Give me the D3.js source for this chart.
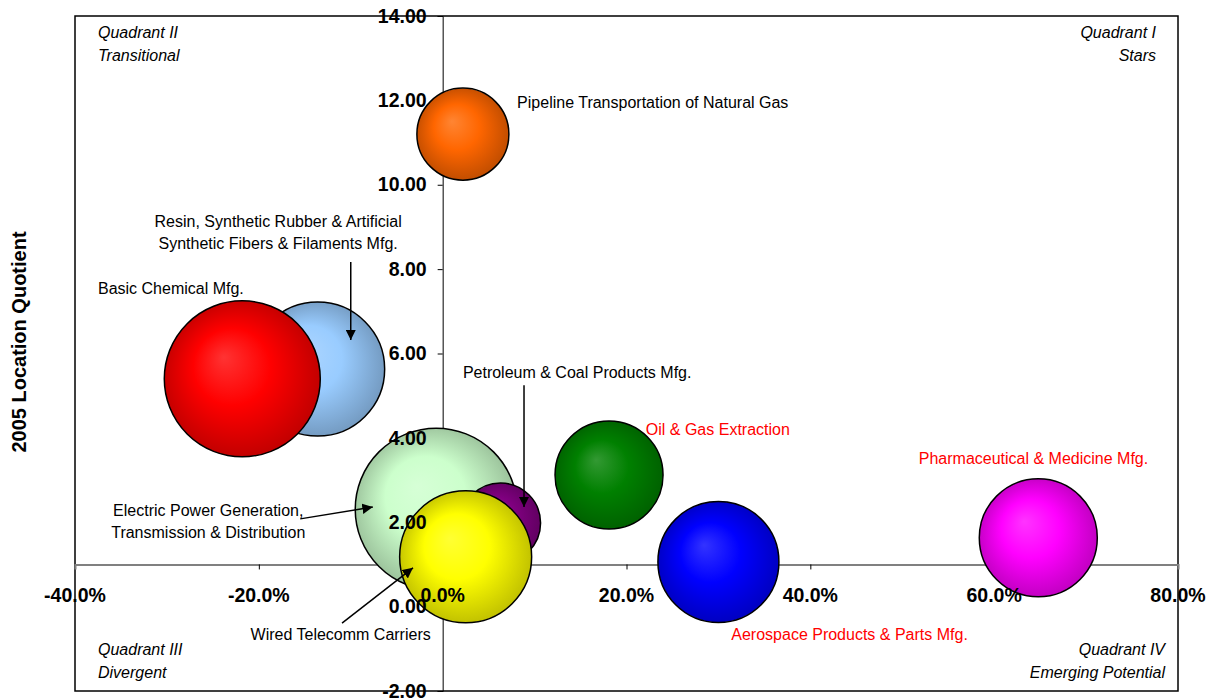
<!DOCTYPE html>
<html>
<head>
<meta charset="utf-8">
<script src="https://cdn.jsdelivr.net/npm/d3@7"></script>
<style>
  html, body { margin: 0; padding: 0; background: #fff; }
  svg { display: block; font-family: "Liberation Sans", Arial, sans-serif; }
</style>
</head>
<body>
<svg id="chart" width="1213" height="700"></svg>
<script>
// Industry clusters: employment growth vs. 2005 location quotient
const industries = [
  "Resin, Synthetic Rubber & Artificial Synthetic Fibers & Filaments Mfg.",
  "Basic Chemical Mfg.",
  "Electric Power Generation, Transmission & Distribution",
  "Petroleum & Coal Products Mfg.",
  "Wired Telecomm Carriers",
  "Pipeline Transportation of Natural Gas",
  "Oil & Gas Extraction",
  "Aerospace Products & Parts Mfg.",
  "Pharmaceutical & Medicine Mfg."
];
const growth = [-13.6, -21.8, -0.7, 6.3, 2.5, 2.2, 18.1, 30.0, 64.8];      // % change
const locationQuotient = [5.63, 5.40, 2.31, 1.98, 1.18, 11.20, 3.12, 1.06, 1.63];
const bubbleSize = [4489, 6084, 6561, 1600, 4356, 2116, 2916, 3660, 3481];
const fills = ["#99CCFF", "#FF0000", "#CCFFCC", "#800080", "#FFFF00", "#FF6600", "#008000", "#0000FF", "#FF00FF"];

const xTicks = [-40, -20, 0, 20, 40, 60, 80];
const yTicks = [-2, 0, 2, 4, 6, 8, 10, 12, 14];

// Label placements (data units) and pointer arrows
const labels = [
  { lines: ["Resin, Synthetic Rubber & Artificial", "Synthetic Fibers & Filaments Mfg."], x: -17.9, y: 9.14, anchor: "middle", color: "#000" },
  { lines: ["Basic Chemical Mfg."], x: -37.5, y: 7.53, anchor: "start", color: "#000" },
  { lines: ["Electric Power Generation,", "Transmission & Distribution"], x: -25.5, y: 2.29, anchor: "middle", color: "#000" },
  { lines: ["Petroleum & Coal Products Mfg."], x: 2.2, y: 5.54, anchor: "start", color: "#000" },
  { lines: ["Wired Telecomm Carriers"], x: -20.9, y: -0.67, anchor: "start", color: "#000" },
  { lines: ["Pipeline Transportation of Natural Gas"], x: 8.1, y: 11.94, anchor: "start", color: "#000" },
  { lines: ["Oil & Gas Extraction"], x: 22.1, y: 4.19, anchor: "start", color: "#FF0000" },
  { lines: ["Aerospace Products & Parts Mfg."], x: 31.4, y: -0.67, anchor: "start", color: "#FF0000" },
  { lines: ["Pharmaceutical & Medicine Mfg."], x: 51.8, y: 3.50, anchor: "start", color: "#FF0000" }
];
const arrows = [
  { x1: -10.0, y1: 8.17, x2: -10.0, y2: 6.32 },
  { x1: -15.5, y1: 2.08, x2: -7.6, y2: 2.36 },
  { x1: 8.85, y1: 5.25, x2: 8.85, y2: 2.36 },
  { x1: -10.95, y1: -0.39, x2: -3.23, y2: 0.92 }
];

const svg = d3.select("#chart");
const plot = { left: 75, top: 16, right: 1178, bottom: 691 };
const midShift = 1.5; // nudges middle-aligned text onto its anchor

const x = d3.scaleLinear().domain([-40, 80]).range([plot.left, plot.right]);
const y = d3.scaleLinear().domain([-2, 14]).range([plot.bottom, plot.top]);
const r = d3.scaleSqrt().domain([0, d3.max(bubbleSize)]).range([0, 81]);

// Hyphen-minus number formats
const fmtPct = d => d3.format(".1f")(d).replace("\u2212", "-") + "%";
const fmtLQ = d => d3.format(".2f")(d).replace("\u2212", "-");

// Shaded sphere gradients
const defs = svg.append("defs");
fills.forEach((c, i) => {
  const base = d3.color(c);
  const g = defs.append("radialGradient")
    .attr("id", "ball" + i)
    .attr("cx", "50%").attr("cy", "50%").attr("r", "55%")
    .attr("fx", "38%").attr("fy", "36%");
  g.append("stop").attr("offset", "0%").attr("stop-color", d3.interpolateRgb(base, "#fff")(0.2));
  g.append("stop").attr("offset", "45%").attr("stop-color", base.formatHex());
  g.append("stop").attr("offset", "100%").attr("stop-color", base.darker(0.9).formatHex());
});
defs.append("marker")
  .attr("id", "arrowhead")
  .attr("viewBox", "0 0 10 10")
  .attr("refX", 10).attr("refY", 5)
  .attr("markerWidth", 7).attr("markerHeight", 7)
  .attr("markerUnits", "strokeWidth")
  .attr("orient", "auto")
  .append("path").attr("d", "M0,0 L10,5 L0,10 Z").attr("fill", "#000");

// Plot frame
svg.append("rect")
  .attr("x", plot.left).attr("y", plot.top)
  .attr("width", plot.right - plot.left).attr("height", plot.bottom - plot.top)
  .attr("fill", "#fff").attr("stroke", "#000").attr("stroke-width", 1.5);

// Axes cross at 0% growth and LQ = 1
const xAxisG = svg.append("g")
  .attr("transform", `translate(0,${y(1)})`)
  .call(d3.axisBottom(x).tickValues(xTicks).tickSize(5).tickFormat(() => ""));
xAxisG.select(".domain").attr("stroke", "#808080").attr("stroke-width", 2);
xAxisG.selectAll(".tick line").attr("stroke", "#000");
xAxisG.selectAll(".tick").filter(d => d === -40 || d === 80).select("line").remove();

const yAxisG = svg.append("g")
  .attr("transform", `translate(${x(0)},0)`)
  .call(d3.axisLeft(y).tickValues(yTicks).tickSize(5).tickFormat(() => ""));
yAxisG.select(".domain").attr("stroke", "#000").attr("stroke-width", 1);
yAxisG.selectAll(".tick line").attr("stroke", "#000");

// Bubbles
const order = d3.range(industries.length);
svg.append("g").selectAll("circle")
  .data(order)
  .join("circle")
  .attr("cx", i => x(growth[i]))
  .attr("cy", i => y(locationQuotient[i]))
  .attr("r", i => r(bubbleSize[i]))
  .attr("fill", i => `url(#ball${i})`)
  .attr("stroke", "#000")
  .attr("stroke-width", 1.5);

// Tick labels drawn above the bubbles
const tickFont = { size: "19.5px", weight: "bold" };
svg.append("g").selectAll("text")
  .data(xTicks)
  .join("text")
  .attr("x", d => x(d))
  .attr("y", y(1) + 31 + midShift)
  .attr("text-anchor", "middle")
  .attr("dominant-baseline", "middle")
  .attr("font-size", tickFont.size)
  .attr("font-weight", tickFont.weight)
  .text(fmtPct);

svg.append("g").selectAll("text")
  .data(yTicks)
  .join("text")
  .attr("x", x(0) - 16)
  .attr("y", d => y(d) + midShift)
  .attr("text-anchor", "end")
  .attr("dominant-baseline", "middle")
  .attr("font-size", tickFont.size)
  .attr("font-weight", tickFont.weight)
  .text(fmtLQ);

// Pointer arrows
svg.append("g").selectAll("line")
  .data(arrows)
  .join("line")
  .attr("x1", d => x(d.x1)).attr("y1", d => y(d.y1))
  .attr("x2", d => x(d.x2)).attr("y2", d => y(d.y2))
  .attr("stroke", "#000").attr("stroke-width", 1.5)
  .attr("marker-end", "url(#arrowhead)");

// Bubble labels
const lbl = svg.append("g").selectAll("text")
  .data(labels)
  .join("text")
  .attr("x", d => x(d.x))
  .attr("y", d => y(d.y) + midShift)
  .attr("text-anchor", d => d.anchor)
  .attr("dominant-baseline", "middle")
  .attr("font-size", "16px")
  .attr("fill", d => d.color);
lbl.each(function (d) {
  d3.select(this).selectAll("tspan")
    .data(d.lines)
    .join("tspan")
    .attr("x", x(d.x))
    .attr("dy", (t, k) => k === 0 ? 0 : 22.5)
    .text(t => t);
});

// Quadrant captions
const quadrants = [
  { lines: ["Quadrant II", "Transitional"], px: plot.left + 23, py: 32, anchor: "start" },
  { lines: ["Quadrant I", "Stars"], px: plot.right - 22, py: 32, anchor: "end" },
  { lines: ["Quadrant III", "Divergent"], px: plot.left + 23, py: 649, anchor: "start" },
  { lines: ["Quadrant IV", "Emerging Potential"], px: plot.right - 13, py: 649, anchor: "end" }
];
quadrants.forEach(q => {
  const t = svg.append("text")
    .attr("text-anchor", q.anchor)
    .attr("dominant-baseline", "middle")
    .attr("font-size", "16px")
    .attr("font-style", "italic");
  q.lines.forEach((line, k) => {
    t.append("tspan").attr("x", q.px).attr("y", q.py + k * 23 + midShift).text(line);
  });
});

// Vertical axis title
svg.append("text")
  .attr("transform", `translate(21,342) rotate(-90)`)
  .attr("text-anchor", "middle")
  .attr("dominant-baseline", "middle")
  .attr("font-size", "20px")
  .attr("font-weight", "bold")
  .text("2005 Location Quotient");
</script>
</body>
</html>
